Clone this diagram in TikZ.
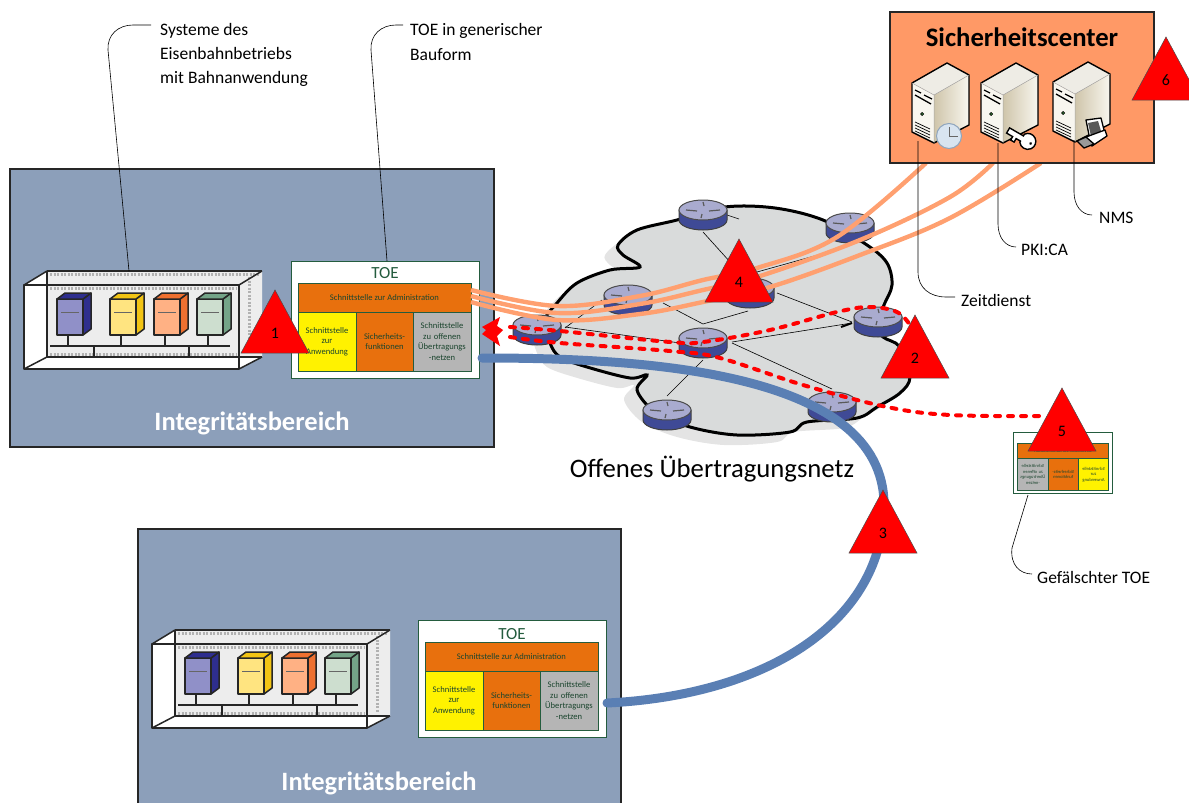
\documentclass[tikz,border=0pt]{standalone}
\usepackage{fontspec}
\setmainfont{Carlito}
\usetikzlibrary{calc,arrows.meta}
\definecolor{panelblue}{HTML}{8C9FBA}
\definecolor{toeorange}{HTML}{E8700D}
\definecolor{toegray}{HTML}{B5B5B5}
\definecolor{toegreen}{HTML}{245C3E}
\definecolor{salmon}{HTML}{FF9966}
\definecolor{linkorange}{HTML}{FFA070}
\definecolor{linkblue}{HTML}{5A7FB4}
\definecolor{cloudgray}{HTML}{D9DBDB}
\definecolor{cloudshadow}{HTML}{E4E4E4}
\definecolor{rtop}{HTML}{A9ABCF}
\definecolor{rbody}{HTML}{3F4A96}
\definecolor{cabA}{HTML}{9090C8}
\definecolor{cabAs}{HTML}{2E2E8E}
\definecolor{cabB}{HTML}{FFE480}
\definecolor{cabBs}{HTML}{F2C414}
\definecolor{cabC}{HTML}{FFB184}
\definecolor{cabCs}{HTML}{EE7030}
\definecolor{cabD}{HTML}{CDDECF}
\definecolor{cabDs}{HTML}{74A488}
\definecolor{srvtan}{HTML}{CFC5AA}
\definecolor{srvlight}{HTML}{F8F6EF}
\definecolor{clockface}{HTML}{D8E4F0}
\definecolor{clockrim}{HTML}{8FA5BD}
\tikzset{
  panelbox/.style={draw=black!85,line width=1.2pt,fill=panelblue},
  areatitle/.style={text=white,font=\bfseries\fontsize{26.5}{28}\selectfont},
  toeframe/.style={draw=toegreen,line width=0.9pt,fill=white},
  toecell/.style={draw=toegreen,line width=0.9pt,inner sep=0pt,align=center,text=toegreen!75!black,font=\fontsize{8.6}{10.6}\selectfont},
  callout/.style={draw=black,line width=0.6pt},
  calltext/.style={anchor=west,inner sep=0pt,align=left,font=\fontsize{17.5}{24.4}\selectfont},
  attack/.style={draw=black!70,line width=0.5pt,fill=red},
  attacktext/.style={inner sep=0pt,font=\fontsize{16}{18}\selectfont},
  netlink/.style={draw=black,line width=0.6pt},
  adminlink/.style={draw=linkorange,line width=4.4pt},
  reddash/.style={draw=red,line width=4pt,line cap=round,dash pattern=on 5pt off 8pt},
  rackline/.style={draw=black!85,line width=1.5pt,line join=round},
  srvline/.style={draw=black,line width=1.4pt,line join=round}
}
% rack
\newcommand{\rackbox}[5]{%
  \filldraw[rackline,fill=#3] (#1,28) rectangle ++(26,36);
  \filldraw[rackline,fill=#4] (#1+26,28) -- ++(8,-6) -- ++(0,36) -- ++(-8,6) -- cycle;
  \filldraw[rackline,fill=#5] (#1,28) -- ++(8,-6) -- ++(26,0) -- ++(-8,6) -- cycle;
  \draw[draw=black!60,line width=1pt] (#1+4,41) -- ++(18,0);
  \draw[rackline] (#1+11,64) -- ++(0,11);
}
\newcommand{\rackpic}[2]{%
 \begin{scope}[shift={(#1,#2)}]
  \fill[white] (0,14) -- (23,0) -- (238,0) -- (238,86) -- (215,98) -- (0,98) -- cycle;
  \fill[black!7] (23,0) rectangle (238,86);
  \draw[black!30,line width=3pt,dash pattern=on 2pt off 1.5pt] (26,17) -- (212,17);
  \draw[black!30,line width=3pt,dash pattern=on 2pt off 1.5pt] (26,83) -- (212,83);
  \draw[black!30,line width=3pt,dash pattern=on 2pt off 1.5pt] (225,6) -- (225,82);
  \draw[black!30,line width=3pt,dash pattern=on 2pt off 1.5pt] (26,3) -- (235,3);
  \fill[white] (0,86) -- (238,86) -- (215,98) -- (0,98) -- cycle;
  \draw[rackline] (23,0) -- (238,0) (238,86) -- (23,86) -- (23,0);
  \draw[rackline] (0,14) rectangle (215,98);
  \draw[rackline] (0,14) -- (23,0) (215,14) -- (238,0) (0,98) -- (23,86) (215,98) -- (238,86);
  \draw[rackline] (26,75) -- (206,75) (70,75) -- (70,86) (165,75) -- (165,86);
  \rackbox{33}{0}{cabA}{cabAs}{cabAs}
  \rackbox{86}{0}{cabB}{cabBs}{cabBs}
  \rackbox{130}{0}{cabC}{cabCs}{cabCs}
  \rackbox{173}{0}{cabD}{cabDs}{cabDs}
 \end{scope}}
% TOE
\newcommand{\toepic}[2]{%
  \node[toeframe,anchor=north west,minimum width=188pt,minimum height=117pt,inner sep=0pt] (#1frame) at (0,0) {};
  \node[inner sep=0pt,text=toegreen,font=\fontsize{17}{18}\selectfont] (#1title) at (94,#2) {TOE};
  \node[toecell,fill=toeorange,minimum width=173pt,minimum height=29pt] (#1admin) at (93.5,36.5) {Schnittstelle zur Administration};
  \node[toecell,fill=yellow,minimum width=58pt,minimum height=59pt,text width=58pt] (#1app) at (36,80.5) {Schnittstelle\\zur\\Anwendung};
  \node[toecell,fill=toeorange,minimum width=57pt,minimum height=59pt,text width=57pt] (#1sec) at (93.5,80.5) {Sicherheits-\\funktionen};
  \node[toecell,fill=toegray,minimum width=58pt,minimum height=59pt,text width=58pt] (#1net) at (151,80.5) {Schnittstelle\\zu offenen\\Übertragungs\\-netzen};
}
% router
\newcommand{\routerpic}[3]{%
  \begin{scope}[shift={(#2,#3)}]
   \filldraw[draw=black!75,line width=1pt,fill=rbody] (-24,-5) -- (-24,5) arc[start angle=180,end angle=0,x radius=24,y radius=10] -- (24,-5) -- cycle;
   \filldraw[draw=black!70,line width=1pt,fill=rtop] (0,-5) ellipse[x radius=24,y radius=10];
   \draw[black!65,line width=1.2pt] (-17,-5) -- (-6,-4) (17,-5) -- (6,-4) (0,-13) -- (1,-9) (-1,-1) -- (-2,3);
  \end{scope}}
% server
\newcommand{\serverpic}[2]{%
 \begin{scope}[shift={(#1,#2)}]
  \fill[srvlight] (0,20) -- (22,32) -- (22,80) -- (0,69) -- cycle;
  \fill[left color=srvtan,right color=srvlight] (22,32) -- (57,12) -- (57,62) -- (22,80) -- cycle;
  \fill[srvlight!96!black] (0,20) -- (35,0) -- (57,12) -- (22,32) -- cycle;
  \draw[srvline] (0,20) -- (35,0) -- (57,12) -- (57,62) -- (22,80) -- (0,69) -- cycle;
  \draw[black!35,line width=0.5pt] (0,20) -- (22,32) -- (22,80) (22,32) -- (57,12);
  \draw[black,line width=1.3pt] (3,27) -- (9,30) (12,32) -- (20,36) (3,32) -- (19,41);
  \filldraw[draw=black,fill=green!40!gray,line width=0.7pt] (10,51) circle (1.5);
  \foreach \k in {0,3,6,9} {\draw[black,line width=0.7pt] (3,59+\k) -- (18,66+\k);}
 \end{scope}}
\newcommand{\attackmark}[4]{%
  \filldraw[attack] (#2,#3) -- (#2+34,#3+63) -- (#2-34,#3+63) -- cycle;
  \node[attacktext] (#1) at (#2,#3+43) {#4};
}
\begin{document}
\begin{tikzpicture}[x=1pt,y=-1pt]
\useasboundingbox (0,0) rectangle (1189,803);
% panels
\filldraw[panelbox] (10,169) rectangle (494,447);
\filldraw[panelbox] (138,529) rectangle (621,815);
\node[areatitle] (area1) at (252,423) {Integritätsbereich};
\node[areatitle] (area2) at (379,783) {Integritätsbereich};
% racks, TOEs
\rackpic{24}{271}
\rackpic{152}{630}
\begin{scope}[shift={(291,261)}]\toepic{a}{12}\end{scope}
\begin{scope}[shift={(418,620)}]\toepic{b}{14.5}\end{scope}
\begin{scope}[shift={(1112.5,432)},xscale=-0.527,yscale=0.527,transform shape]\toepic{f}{12}\end{scope}
% cloud
\def\cloudpts{(725,207) (775,208) (823,220) (867,245) (887,263) (892,285) (884,305) (877,325) (883,337) (900,347) (910,377) (900,393) (877,407) (857,418) (807,422) (790,432) (737,435) (690,427) (655,412) (637,390) (647,375) (630,378) (587,367) (560,357) (550,343) (545,320) (557,303) (577,283) (610,270) (640,267) (623,255) (618,245) (637,230) (677,220)}
\fill[cloudshadow,shift={(-13,10)}] plot[smooth cycle,tension=0.55] coordinates {\cloudpts};
\filldraw[draw=black,line width=3pt,fill=cloudgray] plot[smooth cycle,tension=0.55] coordinates {\cloudpts};
% routers positions, then links
\coordinate (r1) at (703,215);
\coordinate (r2) at (850,228);
\coordinate (r3) at (628,300);
\coordinate (r4) at (750,293);
\coordinate (r5) at (537,330);
\coordinate (r6) at (703,343);
\coordinate (r7) at (878,322);
\coordinate (r8) at (832,407);
\coordinate (r9) at (667,415);
\coordinate (kink) at (703,324);
\draw[netlink] ($(r1)+(0,17)$) -- ($(r4)+(-10,-20)$);
\draw[netlink] ($(r1)+(24,0)$) -- ($(r1)+(36,4)$);
\draw[netlink] ($(r2)+(-7,20)$) -- ($(r4)+(7,-21)$);
\draw[netlink] ($(r4)+(27,0)$) -- ($(r7)+(-26,0)$);
\draw[netlink] ($(r6)+(29,-1)$) -- ($(r7)+(-26,1)$);
\draw[netlink] ($(r6)+(29,0)$) -- ($(r8)+(0,-18)$);
\draw[netlink] ($(r3)+(35,3)$) -- (kink) -- ($(r4)+(-2,18)$);
\draw[netlink] ($(r5)+(28,-2)$) -- ($(r3)+(-26,0)$);
\draw[netlink] ($(r5)+(28,-3)$) -- ($(r6)+(-23,0)$);
\draw[netlink] ($(r6)+(0,17)$) -- ($(r9)+(0,-19)$);
\draw[black,line width=2pt] ($(r7)+(-37,5)$) -- ($(r7)+(-26,1)$);
\routerpic{r1}{703}{215}
\routerpic{r2}{850}{228}
\routerpic{r3}{628}{300}
\routerpic{r4}{750}{293}
\routerpic{r5}{537}{330}
\routerpic{r6}{703}{343}
\routerpic{r7}{878}{322}
\routerpic{r8}{832}{407}
\routerpic{r9}{667}{415}
% admin links
\coordinate (oa1) at (471,290);
\coordinate (oa2) at (471,296);
\coordinate (oa3) at (471,302);
\coordinate (oe1) at (926,163);
\coordinate (oe2) at (993,163);
\coordinate (oe3) at (1041,163);
\draw[adminlink] plot[smooth,tension=0.6] coordinates {(oa1) (557,306) (640,296) (703,280) (757,268) (837,237) (oe1)};
\draw[adminlink] plot[smooth,tension=0.6] coordinates {(oa2) (557,313) (640,304) (703,290) (757,277) (860,240) (950,197) (oe2)};
\draw[adminlink] plot[smooth,tension=0.6] coordinates {(oa3) (557,320) (640,314) (703,302) (770,287) (860,255) (950,218) (oe3)};
% red dashed
\coordinate (ra) at (482,327);
\coordinate (rb) at (482,334);
\coordinate (re1) at (910,325);
\coordinate (re2) at (1040,416);
\draw[reddash] plot[smooth,tension=0.6] coordinates {(510,327) (560,331) (670,342) (703,342) (770,330) (837,312) (870,307) (897,312) (re1)};
\draw[reddash] plot[smooth,tension=0.6] coordinates {(510,337) (560,343) (670,351) (720,358) (803,385) (887,407) (950,415) (re2)};
\fill[red] (ra) -- (500,317) -- (497,326) -- (503,330) -- (497,336) -- (500,346) -- (rb) -- (486,330) -- cycle;
% blue link
\coordinate (bs) at (482,358);
\coordinate (be) at (607,703);
\draw[draw=linkblue,line width=9pt,line cap=round] (bs) .. controls (640,358) and (884,370) .. (884,505) .. controls (884,620) and (770,695) .. (be);
% security centre
\filldraw[draw=black!85,line width=1.3pt,fill=salmon] (890,12) rectangle (1154,163);
\node[inner sep=0pt,font=\bfseries\fontsize{26.7}{28}\selectfont] (sc) at (1022,37) {Sicherheitscenter};
\serverpic{912}{63}
\serverpic{981}{63}
\serverpic{1053}{62}
% clock
\filldraw[draw=clockrim,line width=1pt,fill=clockface] (949,136) circle (12.5);
\draw[black!60,line width=0.8pt] (949,127) -- (949,136) -- (958,136);
% key
\begin{scope}[shift={(1028,142)},rotate=-30]
 \filldraw[draw=black,line width=1.4pt,fill=white] (-23,-3) -- (-7,-3) -- (-7,-5) arc[start angle=-145,end angle=145,radius=8] -- (-7,3) -- (-12,3) -- (-12,7) -- (-16,7) -- (-16,3) -- (-23,3) -- cycle;
 \fill[black] (3,0) circle (1.5);
\end{scope}
% pc
\filldraw[draw=black,line width=1.3pt,fill=white,line join=round] (1086,120) -- (1101,118) -- (1105,134) -- (1090,140) -- cycle;
\fill[black!65] (1088,123) -- (1098,121) -- (1101,131) -- (1091,136) -- cycle;
\filldraw[draw=black,line width=1.3pt,fill=white,line join=round] (1086,137) -- (1105,130) -- (1107,136) -- (1092,146) -- (1086,142) -- cycle;
\filldraw[draw=black,line width=1.3pt,fill=black!40,line join=round] (1077,141) -- (1086,137) -- (1094,144) -- (1084,148) -- cycle;
% attack marks
\attackmark{t1}{275}{290}{1}
\attackmark{t2}{915}{315}{2}
\attackmark{t3}{883}{490}{3}
\attackmark{t4}{739}{239}{4}
\attackmark{t5}{1062}{388}{5}
\attackmark{t6}{1166}{37}{6}
% texts and callouts
\node[inner sep=0pt,font=\fontsize{26.7}{28}\selectfont] (net) at (712,469) {Offenes Übertragungsnetz};
\node[calltext] (l1) at (160,55) {Systeme des\\Eisenbahnbetriebs\\mit Bahnanwendung};
\node[calltext] (l2) at (410,42) {TOE in generischer\\Bauform};
\node[calltext] (l3) at (961,300) {Zeitdienst};
\node[calltext] (l4) at (1021,250) {PKI:CA};
\node[calltext] (l5) at (1099,218) {NMS};
\node[calltext] (l6) at (1037,577) {Gefälschter TOE};
\coordinate (c1) at (129,271);
\coordinate (c2) at (387,261);
\coordinate (c3) at (918,141);
\coordinate (c4) at (998,143);
\coordinate (c5) at (1074,140);
\coordinate (c6) at (1028,495);
\draw[callout] (c1) -- (108,50) .. controls (107,35) and (118,25) .. (133,25) -- (151,25);
\draw[callout] (c2) -- (371,50) .. controls (370,35) and (381,25) .. (396,25) -- (403,25);
\draw[callout] (c3) -- (918,272) .. controls (918,288) and (930,297) .. (946,297) -- (955,297);
\draw[callout] (c4) -- (998,224) .. controls (998,238) and (1006,247) .. (1016,247);
\draw[callout] (c5) -- (1074,192) .. controls (1074,206) and (1082,215) .. (1092,215);
\draw[callout] (c6) -- (1012,548) .. controls (1010,565) and (1020,574) .. (1032,574);
\end{tikzpicture}
\end{document}
